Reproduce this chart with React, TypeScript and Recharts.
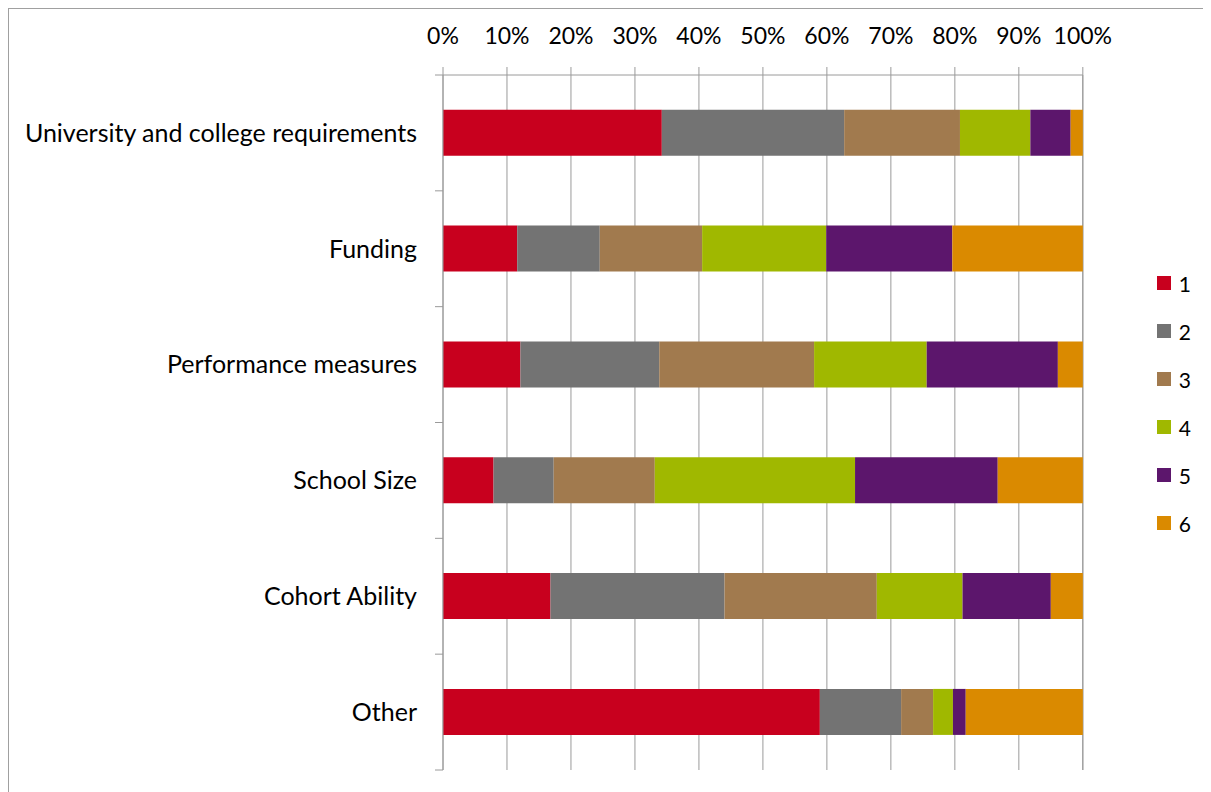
import React from 'react';
import { BarChart, Bar, XAxis, YAxis, CartesianGrid, Legend } from 'recharts';

const categories = [
  'University and college requirements',
  'Funding',
  'Performance measures',
  'School Size',
  'Cohort Ability',
  'Other',
];

// share of responses given each rank (1 = most important), per factor
const rank1 = [34.2, 11.6, 12.1, 7.9, 16.8, 58.9];
const rank2 = [28.5, 12.9, 21.7, 9.4, 27.2, 12.7];
const rank3 = [18.1, 16.0, 24.2, 15.8, 23.8, 5.0];
const rank4 = [11.0, 19.4, 17.6, 31.3, 13.4, 3.1];
const rank5 = [6.3, 19.7, 20.5, 22.3, 13.8, 2.0];
const rank6 = [1.9, 20.4, 3.9, 13.3, 5.0, 18.3];

const seriesNames = ['1', '2', '3', '4', '5', '6'];
const colors = ['#C8001E', '#737373', '#A17A4E', '#A0B800', '#5C166C', '#DA8A00'];
const percentTicks = [0, 10, 20, 30, 40, 50, 60, 70, 80, 90, 100];

// the helper axis spans index 0..n-1, so the n+1 band edges sit at k*(n-1)/n
const n = categories.length;
const edgeTicks = Array.from({ length: n + 1 }, (_, k) => (k * (n - 1)) / n);

const all = [rank1, rank2, rank3, rank4, rank5, rank6];
const data = categories.map((name, i) => {
  const row: Record<string, string | number> = { name };
  seriesNames.forEach((s, k) => {
    row[s] = all[k][i];
  });
  return row;
});

const FONT = 'Lato, "Open Sans", sans-serif';
const GRID = '#9a9a9a';

const LegendBox = () => (
  <div style={{ fontFamily: FONT, fontSize: 21, color: '#000' }}>
    {seriesNames.map((s, k) => (
      <div key={s} style={{ display: 'flex', alignItems: 'center', height: 48 }}>
        <span style={{ width: 14, height: 14, background: colors[k], marginRight: 8 }} />
        <span>{s}</span>
      </div>
    ))}
  </div>
);

export default function App() {
  return (
    <div
      style={{
        width: 1202,
        height: 783,
        borderLeft: '1px solid #a0a0a0',
        borderTop: '1px solid #a0a0a0',
        overflow: 'hidden',
        background: '#fff',
      }}
    >
      <BarChart
        width={1202}
        height={783}
        data={data}
        layout="vertical"
        margin={{ top: 36, right: 94, bottom: 22, left: 0 }}
        barCategoryGap="30%"
      >
        <CartesianGrid horizontal={false} stroke={GRID} />
        <XAxis
          type="number"
          orientation="top"
          height={30}
          domain={[0, 100]}
          ticks={percentTicks}
          tickFormatter={(v) => `${v}%`}
          stroke={GRID}
          tickSize={8}
          tickMargin={23}
          interval={0}
          tick={{ fill: '#000', fontSize: 23, fontFamily: FONT }}
        />
        {/* boundary ticks between categories, like the category axis in the original */}
        <YAxis
          yAxisId={0}
          type="number"
          orientation="left"
          scale="linear"
          domain={[0, n - 1]}
          ticks={edgeTicks}
          width={1}
          tickFormatter={() => ''}
          tickSize={8}
          stroke={GRID}
          interval={0}
          allowDataOverflow
        />
        <YAxis
          yAxisId={1}
          type="category"
          dataKey="name"
          width={433}
          axisLine={false}
          tickLine={false}
          tickSize={0}
          tickMargin={25}
          interval={0}
          tick={{ fill: '#000', fontSize: 25, fontFamily: FONT }}
        />
        <Legend
          layout="vertical"
          align="right"
          verticalAlign="middle"
          content={<LegendBox />}
          wrapperStyle={{ right: 20, top: 250 }}
        />
        {seriesNames.map((s, k) => (
          <Bar
            key={s}
            yAxisId={1}
            dataKey={s}
            stackId="a"
            fill={colors[k]}
            isAnimationActive={false}
          />
        ))}
      </BarChart>
    </div>
  );
}
